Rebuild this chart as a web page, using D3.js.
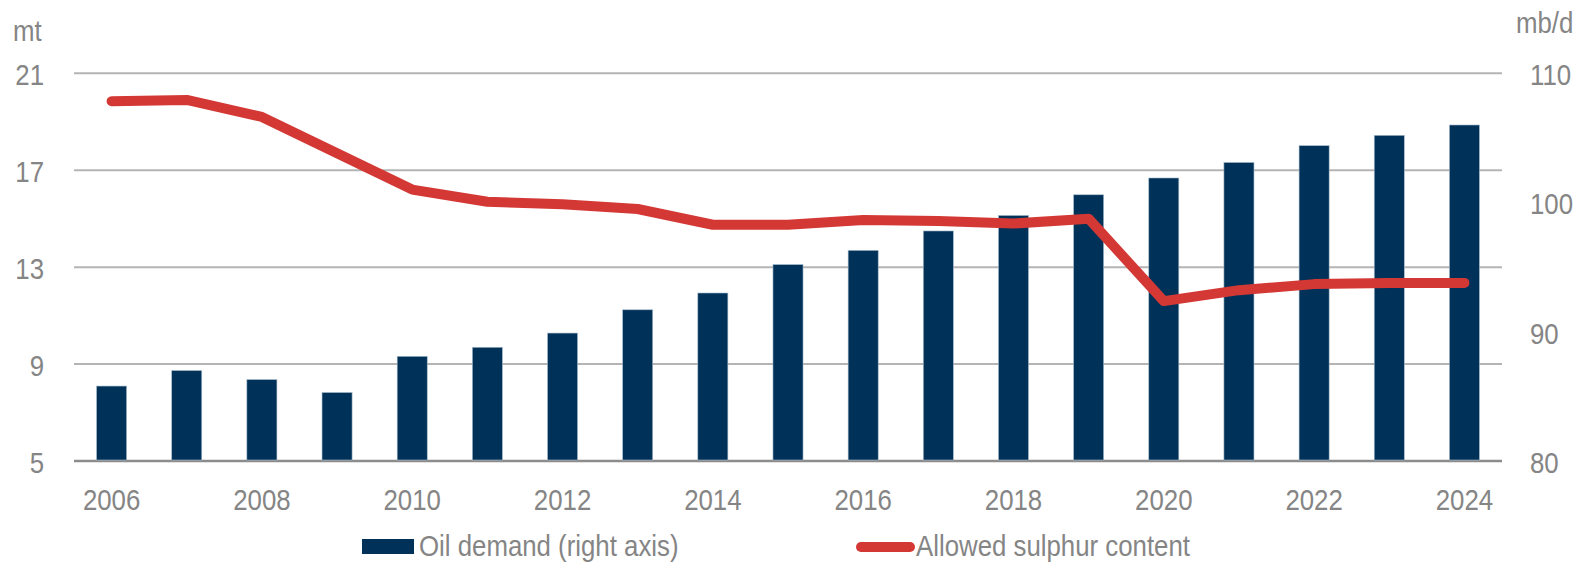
<!DOCTYPE html>
<html>
<head>
<meta charset="utf-8">
<script src="https://cdn.jsdelivr.net/npm/d3@7"></script>
<style>
  body { margin: 0; background: #fff; }
  svg text { font-family: "Liberation Sans Narrow", "Arial Narrow", "Liberation Sans", sans-serif; fill: #858585; }
</style>
</head>
<body>
<svg></svg>
<script>
const years = d3.range(2006, 2025);
const oilDemand = [85.8, 87.0, 86.3, 85.3, 88.1, 88.8, 89.9, 91.7, 93.0, 95.2,
  96.3, 97.8, 99.0, 100.6, 101.9, 103.1, 104.4, 105.2, 106.0];
const sulphur = [19.85, 19.9, 19.2, 17.7, 16.2, 15.7, 15.6, 15.4, 14.75, 14.75,
  14.95, 14.9, 14.8, 15.0, 11.6, 12.05, 12.3, 12.35, 12.35];
const leftTicks = [5, 9, 13, 17, 21];
const rightTicks = [80, 90, 100, 110];
const xTicks = [2006, 2008, 2010, 2012, 2014, 2016, 2018, 2020, 2022, 2024];

const svgWidth = 1576;
const svgHeight = 562;
const plotLeft = 74, plotRight = 1502, plotTop = 73.3, plotBottom = 461;

const svg = d3.select("svg")
  .attr("width", svgWidth)
  .attr("height", svgHeight);

const xScale = d3.scaleBand()
  .domain(years)
  .range([plotLeft, plotRight])
  .paddingInner(0.6)
  .paddingOuter(0.3);

const yLeft = d3.scaleLinear().domain([5, 21]).range([plotBottom, plotTop]);
const yRight = d3.scaleLinear().domain([80, 110]).range([plotBottom, plotTop]);

// gridlines
svg.append("g")
  .selectAll("line")
  .data(leftTicks)
  .enter()
  .append("line")
  .attr("x1", plotLeft)
  .attr("x2", plotRight)
  .attr("y1", d => yLeft(d))
  .attr("y2", d => yLeft(d))
  .attr("stroke", d => d === 5 ? "#8c8c8c" : "#b4b4b4")
  .attr("stroke-width", d => d === 5 ? 2.5 : 2);

// bars
svg.append("g")
  .selectAll("rect")
  .data(oilDemand)
  .enter()
  .append("rect")
  .attr("x", (d, i) => xScale(years[i]))
  .attr("width", xScale.bandwidth())
  .attr("y", d => yRight(d))
  .attr("height", d => yRight(80) - yRight(d) - 1)
  .attr("fill", "#003259")
  .attr("stroke", "#a9bccc")
  .attr("stroke-width", 0.6);

// line
const line = d3.line()
  .x((d, i) => xScale(years[i]) + xScale.bandwidth() / 2)
  .y(d => yLeft(d));

svg.append("path")
  .datum(sulphur)
  .attr("d", line)
  .attr("fill", "none")
  .attr("stroke", "#d43835")
  .attr("stroke-width", 10)
  .attr("stroke-linecap", "round")
  .attr("stroke-linejoin", "round");

// axes
const xAxis = d3.axisBottom(xScale).tickValues(xTicks).tickSize(0).tickPadding(28);
const leftAxis = d3.axisLeft(yLeft).tickValues(leftTicks).tickSize(0).tickPadding(30);
const rightAxis = d3.axisRight(yRight).tickValues(rightTicks).tickSize(0).tickPadding(28);

svg.append("g")
  .attr("transform", "translate(0," + plotBottom + ")")
  .call(xAxis)
  .call(g => g.select(".domain").remove());

svg.append("g")
  .attr("transform", "translate(" + plotLeft + ",0)")
  .call(leftAxis)
  .call(g => g.select(".domain").remove())
  .selectAll("text").attr("dy", "0.38em");

svg.append("g")
  .attr("transform", "translate(" + plotRight + ",0)")
  .call(rightAxis)
  .call(g => g.select(".domain").remove())
  .selectAll("text").attr("dy", "0.38em");

svg.selectAll(".tick text")
  .style("font-size", "30px")
  .style("fill", "#858585")
  .style("font-family", '"Liberation Sans Narrow", "Arial Narrow", "Liberation Sans", sans-serif');

// unit labels
svg.append("text").attr("x", 13).attr("y", 41).style("font-size", "30px").text("mt");
svg.append("text").attr("x", 1516).attr("y", 33).style("font-size", "30px").text("mb/d");

// legend
svg.append("rect")
  .attr("x", 362).attr("y", 539).attr("width", 52).attr("height", 15)
  .attr("fill", "#003259");
svg.append("text").attr("x", 419).attr("y", 556).style("font-size", "30px")
  .text("Oil demand (right axis)");

svg.append("line")
  .attr("x1", 861).attr("x2", 910).attr("y1", 547).attr("y2", 547)
  .attr("stroke", "#d43835").attr("stroke-width", 10)
  .attr("stroke-linecap", "round");
svg.append("text").attr("x", 916).attr("y", 556).style("font-size", "30px")
  .text("Allowed sulphur content");

// narrow font look: squeeze every label horizontally
svg.selectAll("text").each(function () {
  const w = this.getComputedTextLength();
  d3.select(this)
    .attr("textLength", w * 0.86)
    .attr("lengthAdjust", "spacingAndGlyphs");
});
</script>
</body>
</html>
